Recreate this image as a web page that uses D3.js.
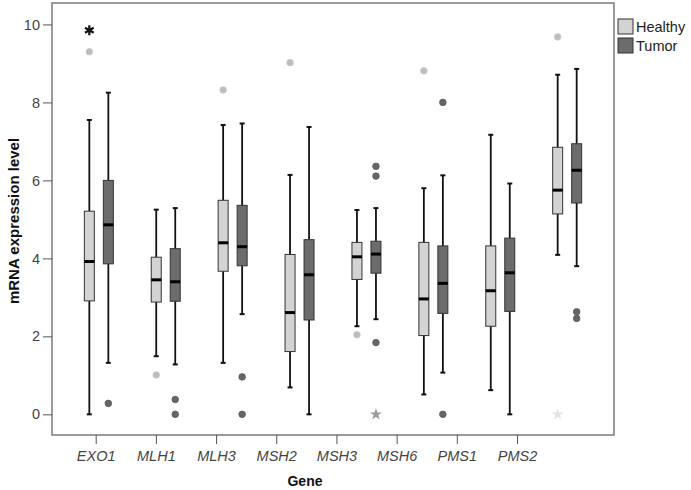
<!DOCTYPE html>
<html><head><meta charset="utf-8">
<script src="https://cdn.jsdelivr.net/npm/d3@7"></script>
<style>body{margin:0;background:#fff}svg{display:block}</style>
</head><body>
<svg id="c" width="691" height="490"></svg>
<script>
const genes = ["EXO1","MLH1","MLH3","MSH2","MSH3","MSH6","PMS1","PMS2"];
const groups = ["Healthy","Tumor"];
// [whiskerLow, Q1, median, Q3, whiskerHigh]
const healthyStats = [
  [0.00,2.91,3.92,5.21,7.55],
  [1.49,2.88,3.45,4.03,5.25],
  [1.32,3.67,4.40,5.49,7.42],
  [0.69,1.61,2.61,4.10,6.14],
  [2.26,3.46,4.04,4.41,5.24],
  [0.51,2.02,2.96,4.41,5.80],
  [0.62,2.26,3.17,4.32,7.17],
  [4.09,5.14,5.75,6.85,8.71]
];
const tumorStats = [
  [1.32,3.86,4.86,6.00,8.25],
  [1.28,2.90,3.40,4.25,5.29],
  [2.57,3.81,4.30,5.36,7.46],
  [0.00,2.42,3.58,4.48,7.37],
  [2.44,3.62,4.11,4.44,5.29],
  [1.07,2.59,3.36,4.32,6.13],
  [0.00,2.64,3.63,4.52,5.92],
  [3.80,5.42,6.26,6.94,8.86]
];
const healthyOutliers = [[9.30],[1.01],[8.32],[9.02],[2.04],[8.81],[],[9.68]];
const tumorOutliers = [[0.28],[0.38,0.00],[0.96,0.00],[],[6.36,6.11,1.84],[8.00,0.00],[],[2.63,2.46]];
const healthyExtremes = [[9.85],[],[],[],[],[],[],[0.00]];
const tumorExtremes = [[],[],[],[],[0.00],[],[],[]];
const yTicks = [0,2,4,6,8,10];

const svg = d3.select("#c");
const L = 52, R = 614, T = 3, B = 435;
const font = "'Liberation Sans', Arial, sans-serif";
const fills = {Healthy:"#d3d3d3", Tumor:"#6c6c6c"};
const outFill = {Healthy:"#bdbdbd", Tumor:"#666666"};
const starFill = {Healthy:"#e4e4e4", Tumor:"#9a9a9a"};

const y = d3.scaleLinear().domain([-0.53, 10.55]).range([B, T]);
const xGroup = d3.scalePoint().domain(genes).range([L, R]).padding(0.7);
const xSub = d3.scalePoint().domain(groups).range([-9.5, 9.5]);
const xAxisScale = d3.scalePoint().domain(genes).range([L + 43.7, L + 465]);

// frame
svg.append("rect").attr("x", L).attr("y", T).attr("width", R - L).attr("height", B - T)
  .attr("fill", "none").attr("stroke", "#7a7a7a").attr("stroke-width", 1.5);

// y axis
const yAxis = svg.append("g").attr("transform", `translate(${L},0)`)
  .call(d3.axisLeft(y).tickValues(yTicks).tickSize(9).tickPadding(3).tickFormat(d3.format("d")));
yAxis.select(".domain").remove();
yAxis.selectAll("line").attr("stroke", "#555");
yAxis.selectAll("text").attr("fill", "#444").style("font-family", font).style("font-size", "14.5px");

// x axis
const xAxis = svg.append("g").attr("transform", `translate(0,${B})`)
  .call(d3.axisBottom(xAxisScale).tickSize(9).tickPadding(7));
xAxis.select(".domain").remove();
xAxis.selectAll("line").attr("stroke", "#555");
xAxis.selectAll("text").attr("fill", "#444").style("font-family", font)
  .style("font-size", "14.5px").style("font-style", "italic");

// titles
svg.append("text").attr("transform", `translate(19,221) rotate(-90)`).attr("text-anchor", "middle")
  .style("font-family", font).style("font-weight", "bold").style("font-size", "15px").attr("fill", "#111")
  .text("mRNA expression level");
svg.append("text").attr("x", 305).attr("y", 486).attr("text-anchor", "middle")
  .style("font-family", font).style("font-weight", "bold").style("font-size", "14px").attr("fill", "#111")
  .text("Gene");

const boxW = 10, capW = 5;
const series = [
  {g:"Healthy", stats:healthyStats, out:healthyOutliers, ext:healthyExtremes},
  {g:"Tumor", stats:tumorStats, out:tumorOutliers, ext:tumorExtremes}
];
series.forEach(s => {
  genes.forEach((gene, i) => {
    const cx = xGroup(gene) + xSub(s.g);
    const [lo, q1, md, q3, hi] = s.stats[i];
    const g = svg.append("g");
    g.append("line").attr("x1", cx).attr("x2", cx).attr("y1", y(hi)).attr("y2", y(q3)).attr("stroke", "#111").attr("stroke-width", 1.8);
    g.append("line").attr("x1", cx).attr("x2", cx).attr("y1", y(q1)).attr("y2", y(lo)).attr("stroke", "#111").attr("stroke-width", 1.8);
    [lo, hi].forEach(v => g.append("line").attr("x1", cx - capW/2).attr("x2", cx + capW/2)
      .attr("y1", y(v)).attr("y2", y(v)).attr("stroke", "#111").attr("stroke-width", 2));
    g.append("rect").attr("x", cx - boxW/2).attr("y", y(q3)).attr("width", boxW).attr("height", y(q1) - y(q3))
      .attr("fill", fills[s.g]).attr("stroke", "#333").attr("stroke-width", 1);
    g.append("line").attr("x1", cx - boxW/2).attr("x2", cx + boxW/2).attr("y1", y(md)).attr("y2", y(md))
      .attr("stroke", "#000").attr("stroke-width", 3);
    s.out[i].forEach(v => g.append("circle").attr("cx", cx).attr("cy", y(v)).attr("r", 3.3)
      .attr("fill", outFill[s.g]).attr("stroke", s.g === "Healthy" ? "#c8c8c8" : "#5a5a5a").attr("stroke-width", 0.8));
    s.ext[i].forEach(v => {
      if (v > 5) {
        g.append("path").attr("d", d3.symbol(d3.symbolAsterisk, 70)())
          .attr("transform", `translate(${cx},${y(v)})`).attr("stroke", "#111").attr("stroke-width", 2.2).attr("fill", "none");
      } else {
        g.append("path").attr("d", d3.symbol(d3.symbolStar, 45)())
          .attr("transform", `translate(${cx},${y(v)})`).attr("fill", starFill[s.g]);
      }
    });
  });
});

// legend
const leg = svg.append("g");
groups.forEach((gname, i) => {
  const yy = 19 + i * 19;
  leg.append("rect").attr("x", 618).attr("y", yy).attr("width", 15).attr("height", 15)
    .attr("fill", fills[gname]).attr("stroke", "#333").attr("stroke-width", 1);
  leg.append("text").attr("x", 636).attr("y", yy + 13).style("font-family", font).style("font-size", "14.5px")
    .attr("fill", "#222").text(gname);
});
</script>
</body></html>
